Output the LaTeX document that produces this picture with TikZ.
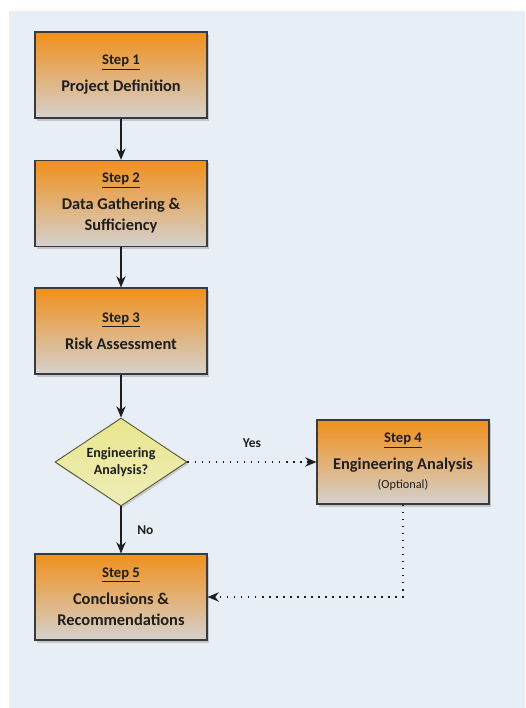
\documentclass[tikz,border=0pt]{standalone}
\usepackage{fontspec}
\setmainfont{Carlito}
\usepackage{xcolor}
\usetikzlibrary{positioning, arrows.meta, shapes.geometric, shadows}
\definecolor{fcInk}{HTML}{1E1E1E}
\definecolor{fcEdge}{HTML}{3A3A3A}
\definecolor{fcOrange}{HTML}{F0901C}
\definecolor{fcGrayT}{HTML}{D4D1CE}
\definecolor{fcYellow}{HTML}{E9E68E}
\definecolor{fcYellowT}{HTML}{EEEDB8}
\definecolor{fcOlive}{HTML}{5A5A38}
\definecolor{fcPage}{HTML}{E8EEF6}
\tikzset{
  stepbox/.style ={draw=fcEdge, line width=0.9pt, top color=fcOrange, bottom color=fcGrayT,
                   minimum width=5.16cm, minimum height=2.58cm, align=center, inner sep=3pt,
                   font=\fontsize{14}{18}\selectfont\bfseries, text=fcInk,
                   drop shadow={shadow xshift=0.6mm, shadow yshift=-0.8mm, opacity=0.35}},
  ask/.style     ={diamond, aspect=1.5, draw=fcOlive, line width=0.8pt, top color=fcYellow, bottom color=fcYellowT,
                   minimum width=3.96cm, minimum height=2.64cm, inner sep=0pt, align=center,
                   font=\fontsize{12}{15}\selectfont\bfseries, text=fcInk,
                   drop shadow={shadow xshift=0.5mm, shadow yshift=-0.6mm, opacity=0.3}},
  arr/.style     ={-{Stealth[length=3.4mm, width=2.8mm]}, line width=1.1pt, fcInk},
  darr/.style    ={-{Stealth[length=3.4mm, width=2.8mm]}, line width=1.3pt, fcInk,
                   dash pattern=on 1.4pt off 4.6pt},
  lbl/.style     ={font=\fontsize{11.5}{13}\selectfont\bfseries, text=fcInk},
}
\newcommand{\steptitle}[1]{{\fontsize{12.5}{15}\selectfont\underline{#1}}\\[5pt]}

\begin{document}
\begin{tikzpicture}
\useasboundingbox (0,0) rectangle (15.75,-21.24);
\fill[fcPage] (0.27,-0.33) rectangle (15.75,-21.24);

% ---- main column ----
\node[stepbox] (s1) at (3.63,-2.25)  {\steptitle{Step 1}Project Definition};
\node[stepbox] (s2) at (3.63,-6.10)  {\steptitle{Step 2}Data Gathering \&\\Sufficiency};
\node[stepbox] (s3) at (3.63,-9.93)  {\steptitle{Step 3}Risk Assessment};
\node[ask]     (q)  at (3.63,-13.86) {Engineering\\Analysis?};
\node[stepbox, minimum height=2.52cm] (s4) at (12.09,-13.86)
      {\steptitle{Step 4}Engineering Analysis\\[-2pt]{\mdseries\fontsize{10.5}{12}\selectfont(Optional)}};
\node[stepbox] (s5) at (3.63,-17.91) {\steptitle{Step 5}Conclusions \&\\Recommendations};

\draw[arr] (s1)--(s2);
\draw[arr] (s2)--(s3);
\draw[arr] (s3)--(q);
\draw[arr] (q) -- node[lbl, right=10pt, pos=0.5]{No} (s5);

% ---- optional branch ----
\draw[darr] (q) -- node[lbl, above=8pt, pos=0.5]{Yes} (s4);
\draw[darr] (s4.south) |- (s5.east);
\end{tikzpicture}
\end{document}
